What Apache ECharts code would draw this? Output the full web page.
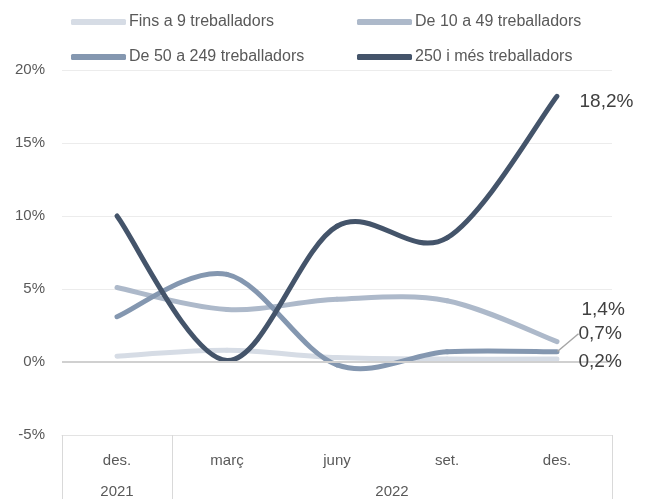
<!DOCTYPE html>
<html>
<head>
<meta charset="utf-8">
<script src="https://cdn.jsdelivr.net/npm/echarts@6/dist/echarts.min.js"></script>
<style>
  html, body { margin: 0; padding: 0; background: #fff; }
  #chart { width: 652px; height: 499px; }
</style>
</head>
<body>
<div id="chart"></div>
<script>
// categories and years
var months = ["des.", "març", "juny", "set.", "des."];
var years = ["2021", "2022"];
var yTicks = [-5, 0, 5, 10, 15, 20];

// series values (%)
var fins9 = [0.4, 0.8, 0.3, 0.2, 0.2];
var de10a49 = [5.1, 3.6, 4.3, 4.2, 1.4];
var de50a249 = [3.1, 6.0, -0.2, 0.7, 0.7];
var mes250 = [10.0, 0.1, 9.3, 8.5, 18.2];

var names = ["Fins a 9 treballadors", "De 10 a 49 treballadors", "De 50 a 249 treballadors", "250 i més treballadors"];
var colors = ["#d6dce5", "#adb9ca", "#8497b0", "#44546a"];

var font = "Liberation Sans";
var chart = echarts.init(document.getElementById("chart"));

function fmt(v) {
  return String(v.toFixed(1)).replace(".", ",") + "%";
}

// label only on the last point
function withEnd(values, offset) {
  return values.map(function (v, i) {
    if (i !== values.length - 1) return v;
    return {
      value: v,
      symbol: "circle",
      symbolSize: 1,
      label: {
        show: true,
        position: "right",
        offset: offset,
        formatter: fmt(v),
        fontFamily: font,
        fontSize: 19,
        color: "#404040",
      },
    };
  });
}

// transparent line series that only carries the end labels
function makeLabels(idx, values, offset) {
  return {
    name: "lbl" + idx,
    type: "line",
    symbol: "none",
    silent: true,
    z: 5,
    data: withEnd(values, offset),
    lineStyle: { width: 0, color: "transparent" },
    itemStyle: { color: "transparent", borderWidth: 0 },
  };
}

// the visible curve, smoothed like a spreadsheet chart
function makeCurve(idx, values) {
  return {
    name: names[idx],
    type: "custom",
    silent: true,
    z: 2,
    data: values.map(function (v, i) { return [i, v]; }),
    encode: { x: 0, y: 1 },
    itemStyle: { color: colors[idx] },
    renderItem: function (params, api) {
      if (params.dataIndex !== 0) return null;
      var pts = values.map(function (v, i) { return api.coord([i, v]); });
      var n = pts.length;
      var kids = [];
      for (var i = 0; i < n - 1; i++) {
        var p0 = pts[Math.max(i - 1, 0)];
        var p1 = pts[i];
        var p2 = pts[i + 1];
        var p3 = pts[Math.min(i + 2, n - 1)];
        kids.push({
          type: "bezierCurve",
          shape: {
            x1: p1[0], y1: p1[1],
            cpx1: p1[0] + (p2[0] - p0[0]) / 6, cpy1: p1[1] + (p2[1] - p0[1]) / 6,
            cpx2: p2[0] - (p3[0] - p1[0]) / 6, cpy2: p2[1] - (p3[1] - p1[1]) / 6,
            x2: p2[0], y2: p2[1],
          },
          style: { stroke: colors[idx], lineWidth: 5, fill: null, lineCap: "round" },
        });
      }
      return { type: "group", children: kids };
    },
  };
}

var lbl2 = makeLabels(2, de50a249, [0, 0]);
// 0,7% label is moved up with a leader line
lbl2.labelLayout = { dx: 16, dy: -18 };
lbl2.labelLine = { show: true, lineStyle: { color: "#a6a6a6", width: 1.5 } };

function legendItem(idx, left, top) {
  return {
    data: [names[idx]],
    left: left,
    top: top,
    icon: "roundRect",
    itemWidth: 55,
    itemHeight: 6,
    textStyle: { fontFamily: font, fontSize: 16, color: "#595959", padding: [0, 0, 0, -2] },
  };
}

var option = {
  animation: false,
  backgroundColor: "#ffffff",
  legend: [
    legendItem(0, 66, 9),
    legendItem(1, 352, 9),
    legendItem(2, 66, 44),
    legendItem(3, 352, 44),
  ],
  grid: { left: 62, right: 40, top: 70, bottom: 63 },
  xAxis: [
    {
      type: "category",
      data: months,
      boundaryGap: true,
      position: "bottom",
      axisLine: { show: true, onZero: false, lineStyle: { color: "#e3e3e3", width: 1 } },
      axisTick: { show: false },
      axisLabel: { margin: 18, fontFamily: font, fontSize: 15, color: "#595959" },
      splitLine: { show: false },
    },
    {
      type: "value",
      min: 0,
      max: months.length,
      position: "bottom",
      axisLine: { show: false, onZero: false },
      axisTick: {
        show: true,
        customValues: [0, 1, months.length],
        length: 70,
        lineStyle: { color: "#d9d9d9", width: 1 },
      },
      axisLabel: {
        customValues: [0.5, 3],
        formatter: function (v) { return v < 1 ? years[0] : years[1]; },
        margin: 49,
        fontFamily: font,
        fontSize: 15,
        color: "#595959",
      },
      splitLine: { show: false },
    },
  ],
  yAxis: {
    type: "value",
    min: yTicks[0],
    max: yTicks[yTicks.length - 1],
    interval: 5,
    axisLine: { show: false },
    axisTick: { show: false },
    axisLabel: {
      margin: 17,
      fontFamily: font,
      fontSize: 15,
      color: "#595959",
      formatter: function (v) { return v + "%"; },
    },
    splitLine: { lineStyle: { color: "#ececec" } },
  },
  series: [
    makeCurve(0, fins9),
    makeCurve(1, de10a49),
    makeCurve(2, de50a249),
    makeCurve(3, mes250),
    makeLabels(0, fins9, [16, 3]),
    makeLabels(1, de10a49, [19, -32]),
    lbl2,
    makeLabels(3, mes250, [17, 5]),
    {
      // darker zero line
      type: "line",
      silent: true,
      data: [],
      z: 1,
      markLine: {
        symbol: "none",
        silent: true,
        label: { show: false },
        lineStyle: { color: "#d0d0d0", width: 2, type: "solid" },
        data: [{ yAxis: 0 }],
      },
    },
  ],
};

chart.setOption(option);
</script>
</body>
</html>
